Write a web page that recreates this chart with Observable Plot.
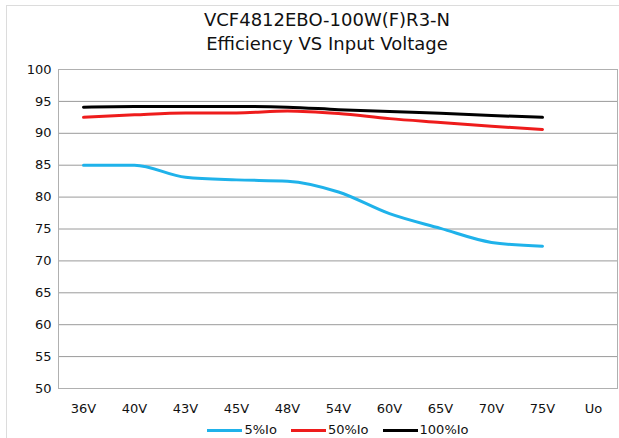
<!DOCTYPE html>
<html><head><meta charset="utf-8">
<script src="https://cdn.jsdelivr.net/npm/d3@7"></script>
<script src="https://cdn.jsdelivr.net/npm/@observablehq/plot@0.6"></script>
<style>
body{margin:0;background:#fff;font-family:"DejaVu Sans",sans-serif;}
#wrap{position:relative;width:619px;height:438px;overflow:hidden;background:#fff;}
#frame{position:absolute;left:6px;top:5px;width:700px;height:500px;border:1px solid #dcdcdc;}
#title{position:absolute;left:0;top:8px;width:654px;text-align:center;font-size:18px;line-height:24px;color:#111;}
#chart{position:absolute;left:0;top:60px;}
#legend{position:absolute;left:0;top:421px;width:676px;display:flex;justify-content:center;align-items:center;font-size:13px;color:#111;line-height:18px;}
.item{display:flex;align-items:center;margin:0 7px;}
.sw{display:inline-block;width:35px;height:3px;margin-right:2px;}
</style></head>
<body>
<div id="wrap">
  <div id="frame"></div>
  <div id="title">VCF4812EBO-100W(F)R3-N<br>Efficiency VS Input Voltage</div>
  <div id="chart"></div>
  <div id="legend"></div>
</div>
<script>
const categories = ["36V","40V","43V","45V","48V","54V","60V","65V","70V","75V","Uo"];
const voltages = ["36V","40V","43V","45V","48V","54V","60V","65V","70V","75V"];
const io5 = [85.0, 85.0, 83.1, 82.7, 82.5, 80.8, 77.4, 75.1, 72.9, 72.3];
const io50 = [92.5, 92.9, 93.2, 93.2, 93.5, 93.1, 92.3, 91.7, 91.1, 90.6];
const io100 = [94.1, 94.2, 94.2, 94.2, 94.1, 93.7, 93.4, 93.15, 92.8, 92.5];
const seriesNames = ["5%Io","50%Io","100%Io"];
const seriesColors = ["#1fb2ea","#ee1c1c","#000000"];
const yTicks = [50,55,60,65,70,75,80,85,90,95,100];

const seriesValues = [io5, io50, io100];
const data = seriesNames.flatMap((s, i) => voltages.map((v, j) => ({series: s, v, value: seriesValues[i][j]})));

const chart = Plot.plot({
  width: 619,
  height: 360,
  marginTop: 9,
  marginBottom: 32,
  marginLeft: 58,
  marginRight: 2,
  style: {fontFamily: '"DejaVu Sans", sans-serif', fontSize: "13px", color: "#111", background: "transparent"},
  x: {type: "point", domain: categories, padding: 0.46, label: null, tickSize: 0, tickPadding: 15},
  y: {domain: [50, 100], ticks: yTicks, label: null, tickSize: 0, tickPadding: 7},
  color: {domain: seriesNames, range: seriesColors},
  marks: [
    Plot.gridY(yTicks, {stroke: "#9a9a9a", strokeOpacity: 1, strokeWidth: 1}),
    Plot.frame({stroke: "#b0b0b0", strokeWidth: 1}),
    Plot.axisX({tickSize: 0, tickPadding: 15}),
    Plot.axisY({ticks: yTicks, tickSize: 0, tickPadding: 7}),
    Plot.lineY(data, {x: "v", y: "value", z: "series", stroke: "series", strokeWidth: 3, curve: "monotone-x"})
  ]
});
document.getElementById("chart").appendChild(chart);

const legend = document.getElementById("legend");
seriesNames.forEach((s, i) => {
  const it = document.createElement("span");
  it.className = "item";
  const sw = document.createElement("span");
  sw.className = "sw";
  sw.style.background = seriesColors[i];
  it.appendChild(sw);
  it.appendChild(document.createTextNode(s));
  legend.appendChild(it);
});
</script>
</body></html>
